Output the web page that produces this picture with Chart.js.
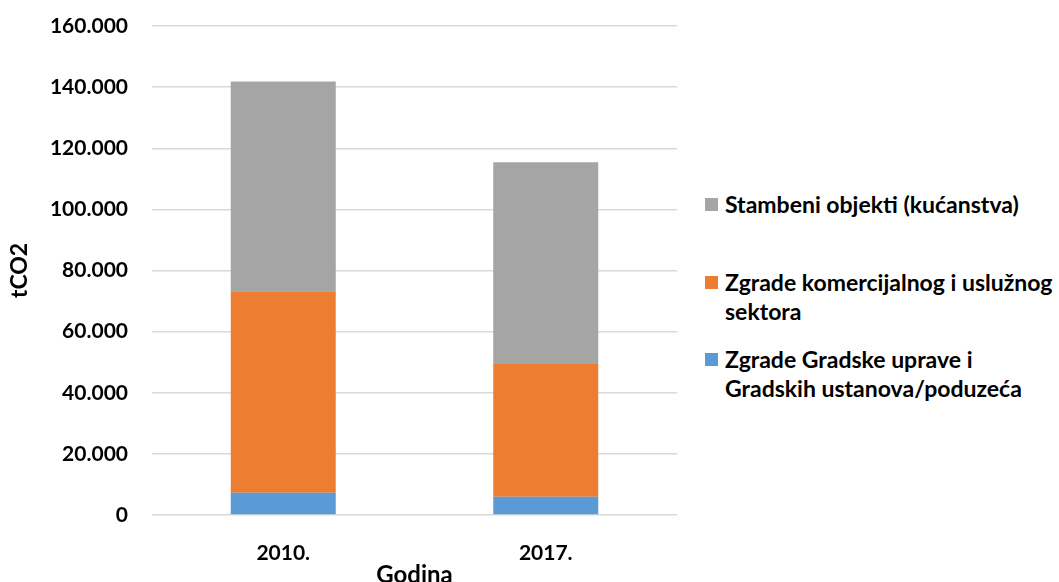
<!DOCTYPE html>
<html>
<head>
<meta charset="utf-8">
<script src="https://cdn.jsdelivr.net/npm/chart.js@4/dist/chart.umd.min.js"></script>
<style>
  body { margin: 0; background: #fff; font-family: Lato, sans-serif; overflow: hidden; }
  #wrap { position: relative; width: 1059px; height: 582px; overflow: hidden; }
  #chartBox { position: absolute; left: 0; top: 0; width: 690px; height: 590px; }
  #legend { position: absolute; left: 705px; top: 0; font-weight: bold; font-size: 23px; color: #000; }
  .item { position: absolute; left: 0; white-space: nowrap; line-height: 29px; }
  .box { position: absolute; left: 0; top: 8px; width: 13px; height: 13px; }
  .txt { position: absolute; left: 20px; top: 0; }
</style>
</head>
<body>
<div id="wrap">
  <div id="chartBox"><canvas id="myChart"></canvas></div>
  <div id="legend"></div>
</div>
<script>
const years = ["2010.", "2017."];
const gradskeUprave = [7300, 6000]; // Zgrade Gradske uprave i Gradskih ustanova/poduzeća
const komercijalne = [65900, 43400]; // Zgrade komercijalnog i uslužnog sektora
const stambeni = [68600, 66000]; // Stambeni objekti (kućanstva)

const colors = { siva: "#a5a5a5", narancasta: "#ed7d31", plava: "#5b9bd5" };

// legenda desno (HTML, jer Chart.js ne lomi tekst u više redova)
const legendItems = [
  { lines: ["Stambeni objekti (kućanstva)"], color: colors.siva, top: 190 },
  { lines: ["Zgrade komercijalnog i uslužnog", "sektora"], color: colors.narancasta, top: 268 },
  { lines: ["Zgrade Gradske uprave i", "Gradskih ustanova/poduzeća"], color: colors.plava, top: 345 },
];
const legend = document.getElementById("legend");
legendItems.forEach((it) => {
  const d = document.createElement("div");
  d.className = "item";
  d.style.top = it.top + "px";
  d.innerHTML = '<span class="box" style="background:' + it.color + '"></span><span class="txt">' + it.lines.join("<br>") + "</span>";
  legend.appendChild(d);
});

const ctx = document.getElementById("myChart").getContext("2d");
new Chart(ctx, {
  type: "bar",
  data: {
    labels: years,
    datasets: [
      { label: "Zgrade Gradske uprave i Gradskih ustanova/poduzeća", data: gradskeUprave, backgroundColor: colors.plava },
      { label: "Zgrade komercijalnog i uslužnog sektora", data: komercijalne, backgroundColor: colors.narancasta },
      { label: "Stambeni objekti (kućanstva)", data: stambeni, backgroundColor: colors.siva },
    ],
  },
  options: {
    responsive: true,
    maintainAspectRatio: false,
    animation: false,
    layout: { padding: { top: 26, right: 13, left: 6, bottom: 0 } },
    datasets: { bar: { barPercentage: 0.4, categoryPercentage: 1 } },
    plugins: { legend: { display: false }, tooltip: { enabled: false } },
    scales: {
      x: {
        stacked: true,
        grid: { display: false },
        border: { display: false },
        ticks: { color: "#000", font: { family: "Lato", size: 21, weight: "bold" }, padding: 18 },
        title: { display: true, text: "Godina", color: "#000", font: { family: "Lato", size: 24, weight: "bold" }, padding: { top: 0, bottom: 0 } },
        afterFit: (s) => { s.height = 75; },
      },
      y: {
        stacked: true,
        min: 0,
        max: 160000,
        grid: { color: "#d9d9d9", lineWidth: 1.5, drawTicks: false },
        border: { display: false },
        ticks: {
          stepSize: 20000,
          color: "#000",
          padding: 24,
          font: { family: "Lato", size: 21, weight: "bold" },
          callback: (v) => String(v).replace(/\B(?=(\d{3})+(?!\d))/g, "."),
        },
        title: { display: true, text: "tCO2", color: "#000", font: { family: "Lato", size: 23, weight: "bold" }, padding: { top: 0, bottom: 0 } },
        afterFit: (s) => {
          s.width = 146;
          // tick padding se inače dodaje i gore/dolje
          s.paddingTop = 0;
          s.paddingBottom = 0;
        },
      },
    },
  },
});
</script>
</body>
</html>
